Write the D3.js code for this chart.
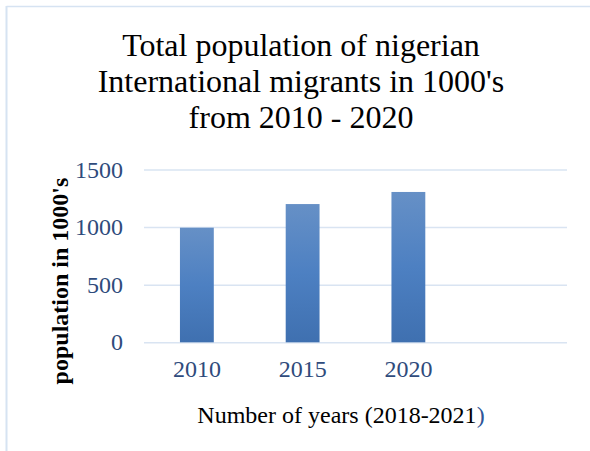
<!DOCTYPE html>
<html>
<head>
<meta charset="utf-8">
<script src="https://cdn.jsdelivr.net/npm/d3@7"></script>
<style>
  html, body { margin: 0; padding: 0; background: #fff; }
  svg { display: block; }
  text, tspan { font-family: "Liberation Serif", "Times New Roman", serif; }
</style>
</head>
<body>
<svg id="chart" width="590" height="451"></svg>
<script>
// Nigerian international migrants (thousands)
const categories = ["2010", "2015", "2020", ""];
const migrants = [995, 1200, 1305, null];
const yTicks = [0, 500, 1000, 1500];
const titleLines = ["Total population of nigerian", "International migrants in 1000's", "from 2010 - 2020"];

const svg = d3.select("#chart");
const W = 590, H = 451;
const plot = { left: 144, right: 567, top: 169.5, bottom: 342.3 };
const tickColor = "#2f4b7c";

// frame edges
svg.append("line").attr("x1", 6.5).attr("x2", 590).attr("y1", 6.5).attr("y2", 6.5)
  .attr("stroke", "#d6e3f2").attr("stroke-width", 1.5);
svg.append("line").attr("x1", 6.5).attr("x2", 6.5).attr("y1", 6).attr("y2", H)
  .attr("stroke", "#d6e3f2").attr("stroke-width", 2);

const defs = svg.append("defs");
const grad = defs.append("linearGradient").attr("id", "barFill")
  .attr("x1", 0).attr("y1", 0).attr("x2", 0).attr("y2", 1);
grad.append("stop").attr("offset", "0%").attr("stop-color", "#6690c6");
grad.append("stop").attr("offset", "50%").attr("stop-color", "#4d80c2");
grad.append("stop").attr("offset", "100%").attr("stop-color", "#3f70b0");

const x = d3.scaleBand().domain(categories).range([plot.left, plot.right])
  .paddingInner(0.68).paddingOuter(0.34);
const y = d3.scaleLinear().domain([0, 1500]).range([plot.bottom, plot.top]);

// gridlines
svg.append("g")
  .attr("transform", `translate(${plot.left},0)`)
  .call(d3.axisLeft(y).tickValues(yTicks).tickSize(-(plot.right - plot.left)).tickFormat(""))
  .call(g => g.select(".domain").remove())
  .call(g => g.selectAll("line").attr("stroke", "#d9e4f2").attr("stroke-width", 1.5));

// y tick labels
svg.append("g")
  .attr("transform", `translate(${plot.left - 21},0)`)
  .call(d3.axisLeft(y).tickValues(yTicks).tickFormat(d3.format("d")).tickSize(0).tickPadding(0))
  .call(g => g.select(".domain").remove())
  .call(g => g.selectAll("text")
    .style("font-family", '"Liberation Serif", serif').attr("font-size", 24).attr("fill", tickColor));

// bars
svg.append("g").selectAll("rect")
  .data(categories.map((c, i) => ({ c, v: migrants[i] })).filter(d => d.v != null))
  .join("rect")
  .attr("x", d => x(d.c))
  .attr("width", x.bandwidth())
  .attr("y", d => y(d.v))
  .attr("height", d => y(0) - y(d.v))
  .attr("fill", "url(#barFill)");

// x tick labels
svg.append("g")
  .attr("transform", `translate(0,${plot.bottom + 18})`)
  .call(d3.axisBottom(x).tickSize(0).tickPadding(0))
  .call(g => g.select(".domain").remove())
  .call(g => g.selectAll("text")
    .style("font-family", '"Liberation Serif", serif').attr("font-size", 24).attr("fill", tickColor));

// title
svg.append("text")
  .attr("text-anchor", "middle")
  .attr("font-size", 32).attr("fill", "#000")
  .selectAll("tspan").data(titleLines).join("tspan")
  .attr("x", 301).attr("y", (d, i) => 56 + i * 36)
  .text(d => d);

// axis titles
const xt = svg.append("text")
  .attr("x", 341).attr("y", 423).attr("text-anchor", "middle")
  .attr("font-size", 24).attr("fill", "#000");
xt.append("tspan").text("Number of years (2018-2021");
xt.append("tspan").attr("fill", "#2f5597").text(")");

svg.append("text")
  .attr("transform", `translate(68,${281}) rotate(-90)`)
  .attr("text-anchor", "middle")
  .attr("font-size", 24).attr("font-weight", "bold").attr("fill", "#000")
  .text("population in 1000's");
</script>
</body>
</html>
